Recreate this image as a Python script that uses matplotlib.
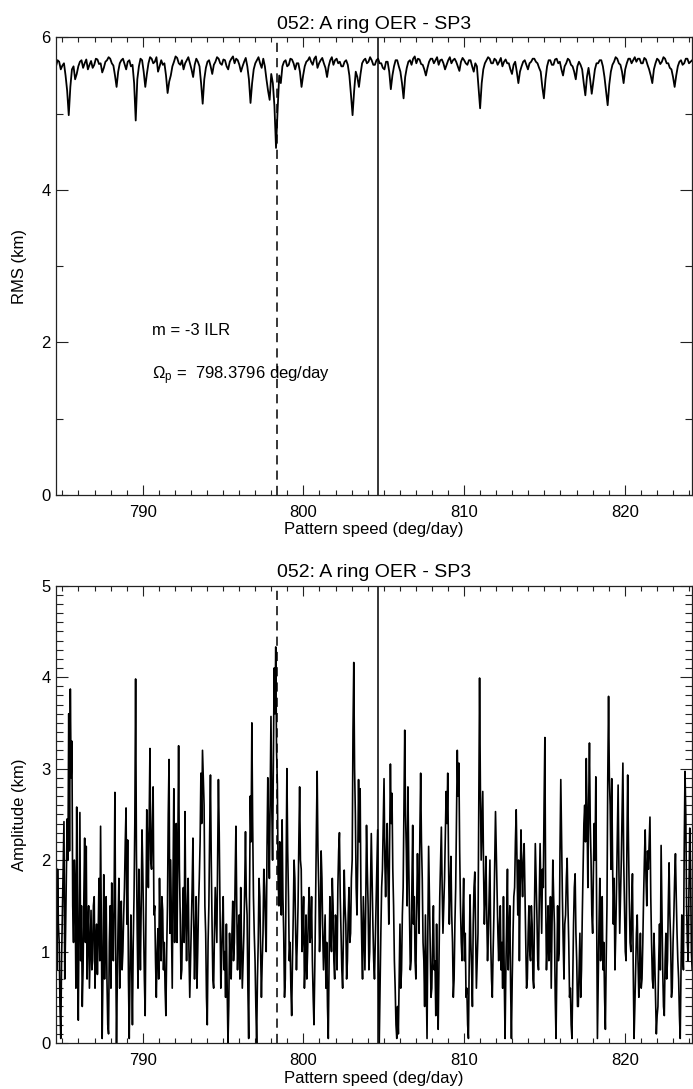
import numpy as np
import matplotlib
matplotlib.use("Agg")
import matplotlib.pyplot as plt
from matplotlib.ticker import MultipleLocator

plt.rcParams['font.family'] = ['Liberation Sans', 'DejaVu Sans']
plt.rcParams['mathtext.fontset'] = 'custom'
plt.rcParams['mathtext.rm'] = 'Liberation Sans'
plt.rcParams['mathtext.it'] = 'Liberation Sans:italic'

title = "052: A ring OER - SP3"
x_start, x_stop = 784.6, 824.2
omega_p = 798.3796
solid_x = 804.62

# RMS (km)
rms = [
    5.62, 5.70, 5.68, 5.58, 5.63, 5.66, 5.50, 5.30, 4.98, 5.35, 5.58, 5.62, 5.45, 5.52, 5.62, 5.68, 5.70, 5.60, 5.66, 5.71,
    5.58, 5.64, 5.69, 5.60, 5.64, 5.72, 5.71, 5.65, 5.66, 5.54, 5.60, 5.68, 5.70, 5.74, 5.72, 5.66, 5.63, 5.50, 5.35, 5.55,
    5.66, 5.70, 5.72, 5.65, 5.58, 5.68, 5.70, 5.62, 5.64, 5.40, 4.91, 5.45, 5.62, 5.72, 5.70, 5.55, 5.35, 5.52, 5.66, 5.74,
    5.72, 5.66, 5.68, 5.74, 5.55, 5.62, 5.70, 5.64, 5.66, 5.50, 5.27, 5.42, 5.50, 5.62, 5.68, 5.75, 5.73, 5.66, 5.64, 5.70,
    5.58, 5.66, 5.70, 5.74, 5.66, 5.58, 5.48, 5.64, 5.72, 5.68, 5.62, 5.40, 5.13, 5.45, 5.60, 5.68, 5.70, 5.62, 5.52, 5.64,
    5.68, 5.74, 5.72, 5.66, 5.64, 5.71, 5.70, 5.62, 5.58, 5.68, 5.72, 5.75, 5.66, 5.72, 5.70, 5.64, 5.55, 5.62, 5.68, 5.73,
    5.62, 5.45, 5.14, 5.40, 5.58, 5.66, 5.70, 5.74, 5.66, 5.60, 5.72, 5.62, 5.45, 5.30, 5.18, 5.52, 5.40, 5.10, 4.55, 5.05,
    5.50, 5.40, 5.62, 5.68, 5.70, 5.62, 5.64, 5.72, 5.71, 5.66, 5.58, 5.66, 5.66, 5.55, 5.35, 5.50, 5.62, 5.68, 5.70, 5.74,
    5.68, 5.64, 5.72, 5.75, 5.60, 5.66, 5.70, 5.73, 5.66, 5.60, 5.48, 5.62, 5.70, 5.74, 5.64, 5.70, 5.72, 5.66, 5.68, 5.62,
    5.62, 5.68, 5.70, 5.64, 5.50, 5.25, 4.98, 5.30, 5.55, 5.48, 5.35, 5.52, 5.66, 5.70, 5.72, 5.66, 5.68, 5.74, 5.70, 5.64,
    5.64, 5.70, 5.72, 5.66, 5.66, 5.60, 5.58, 5.68, 5.68, 5.55, 5.32, 5.50, 5.62, 5.70, 5.70, 5.62, 5.55, 5.40, 5.20, 5.48,
    5.60, 5.68, 5.70, 5.64, 5.72, 5.75, 5.66, 5.72, 5.71, 5.65, 5.64, 5.58, 5.50, 5.60, 5.68, 5.72, 5.72, 5.66, 5.70, 5.74,
    5.64, 5.70, 5.71, 5.66, 5.58, 5.64, 5.70, 5.74, 5.66, 5.70, 5.72, 5.68, 5.62, 5.56, 5.68, 5.73, 5.70, 5.66, 5.64, 5.70,
    5.70, 5.62, 5.55, 5.66, 5.62, 5.35, 5.07, 5.40, 5.58, 5.66, 5.70, 5.74, 5.72, 5.66, 5.66, 5.72, 5.70, 5.64, 5.68, 5.73,
    5.62, 5.68, 5.71, 5.66, 5.66, 5.58, 5.52, 5.64, 5.68, 5.55, 5.40, 5.55, 5.62, 5.68, 5.70, 5.64, 5.58, 5.66, 5.68, 5.72,
    5.72, 5.68, 5.66, 5.60, 5.55, 5.35, 5.20, 5.45, 5.62, 5.70, 5.70, 5.64, 5.64, 5.71, 5.72, 5.66, 5.68, 5.58, 5.50, 5.62,
    5.66, 5.72, 5.70, 5.64, 5.62, 5.55, 5.45, 5.62, 5.68, 5.64, 5.58, 5.40, 5.24, 5.48, 5.60, 5.45, 5.26, 5.42, 5.58, 5.66,
    5.66, 5.70, 5.70, 5.62, 5.48, 5.30, 5.11, 5.38, 5.55, 5.64, 5.68, 5.74, 5.72, 5.66, 5.64, 5.55, 5.40, 5.58, 5.66, 5.72,
    5.72, 5.66, 5.70, 5.74, 5.68, 5.72, 5.72, 5.66, 5.66, 5.73, 5.71, 5.64, 5.58, 5.50, 5.40, 5.58, 5.66, 5.72, 5.70, 5.65,
    5.68, 5.74, 5.72, 5.66, 5.66, 5.60, 5.58, 5.48, 5.35, 5.50, 5.62, 5.68, 5.70, 5.64, 5.66, 5.72, 5.72, 5.66, 5.68, 5.70,
]

# Amplitude (km)
amp = [
    2.25, 0.80, 1.90, 1.30, 1.10, 0.40, 0.05, 0.90, 1.40, 1.90, 2.42, 0.70, 1.20, 1.80, 2.45, 2.00, 3.60, 2.10, 3.87, 2.90,
    3.30, 1.50, 1.10, 2.00, 1.70, 0.60, 2.58, 1.20, 0.25, 1.40, 2.52, 0.90, 1.50, 0.40, 0.80, 1.60, 2.24, 1.10, 2.15, 0.70,
    1.20, 1.50, 0.60, 1.00, 1.45, 0.80, 0.90, 1.50, 1.60, 0.60, 1.10, 1.30, 0.75, 1.20, 1.80, 0.90, 2.37, 1.20, 0.05, 0.80,
    1.84, 0.70, 1.20, 1.60, 0.70, 0.20, 0.10, 1.10, 1.50, 0.60, 1.75, 1.20, 0.90, 1.60, 2.74, 1.00, 0.00, 0.70, 1.30, 1.80,
    0.60, 1.20, 1.55, 0.80, 1.00, 1.40, 1.70, 2.20, 2.57, 1.30, 2.22, 0.70, 0.05, 0.80, 1.40, 0.90, 0.20, 1.10, 1.60, 2.40,
    3.98, 2.10, 1.20, 0.60, 1.90, 1.40, 0.80, 1.50, 2.33, 1.90, 1.30, 0.70, 0.30, 1.50, 2.55, 2.20, 1.70, 2.40, 3.22, 2.00,
    1.90, 2.40, 2.80, 1.40, 1.50, 0.90, 0.50, 1.00, 1.25, 0.70, 1.80, 1.20, 0.90, 1.60, 1.45, 0.80, 1.10, 0.60, 0.30, 1.00,
    1.50, 2.50, 3.10, 1.20, 2.00, 1.30, 0.60, 1.80, 2.78, 1.10, 1.90, 2.40, 1.10, 2.10, 3.25, 1.90, 1.40, 0.70, 0.80, 1.40,
    1.70, 1.10, 2.53, 1.40, 0.90, 1.50, 1.80, 1.00, 0.50, 0.90, 1.30, 1.70, 2.24, 1.30, 0.70, 1.20, 1.60, 0.60, 1.00, 1.50,
    1.80, 2.20, 2.95, 2.40, 3.20, 2.90, 2.60, 1.50, 1.20, 0.50, 0.20, 1.10, 1.50, 2.30, 2.93, 2.00, 1.30, 0.70, 0.60, 1.20,
    1.70, 1.40, 1.10, 2.00, 2.88, 2.30, 1.40, 0.60, 0.90, 1.30, 1.60, 0.80, 1.00, 0.50, 1.30, 0.60, 0.00, 0.40, 1.20, 0.80,
    0.70, 1.20, 1.55, 0.90, 1.10, 1.80, 2.37, 1.50, 0.80, 1.20, 1.40, 0.70, 1.70, 1.10, 0.60, 0.90, 1.20, 1.70, 2.31, 1.60,
    1.40, 0.60, 0.05, 1.50, 2.70, 2.20, 3.50, 2.40, 1.60, 1.20, 0.90, 0.40, 0.00, 0.70, 1.10, 1.80, 1.60, 1.00, 0.50, 0.90,
    1.20, 1.90, 1.70, 1.30, 1.00, 2.10, 2.90, 2.30, 1.80, 2.70, 3.57, 2.60, 2.00, 3.00, 4.10, 3.60, 4.33, 3.20, 2.84, 1.80,
    1.50, 2.20, 1.90, 1.40, 2.44, 1.60, 1.20, 0.50, 0.70, 1.80, 3.00, 2.10, 1.60, 0.90, 1.10, 0.60, 0.30, 0.90, 1.40, 2.00,
    1.80, 1.20, 0.80, 1.10, 1.50, 2.20, 2.80, 2.00, 1.90, 1.00, 1.20, 1.60, 0.60, 0.90, 1.40, 0.70, 1.00, 1.40, 1.70, 1.10,
    1.20, 1.60, 0.90, 0.50, 0.20, 0.80, 1.50, 2.30, 2.97, 2.10, 1.70, 1.00, 1.30, 2.10, 1.80, 1.20, 0.80, 1.10, 1.40, 0.60,
    1.10, 0.40, 0.05, 0.90, 1.60, 1.20, 1.00, 1.80, 1.50, 0.90, 0.70, 1.40, 1.30, 0.80, 1.70, 2.10, 2.30, 1.60, 1.20, 0.80,
    0.60, 1.20, 1.89, 1.50, 1.30, 0.70, 0.90, 1.40, 1.70, 1.10, 1.20, 1.80, 2.00, 3.40, 4.16, 3.00, 2.50, 1.70, 1.40, 2.00,
    2.88, 2.20, 2.78, 1.60, 1.10, 0.70, 1.60, 1.20, 0.80, 1.50, 2.38, 1.90, 1.50, 0.80, 1.00, 1.70, 2.29, 1.80, 1.30, 0.90,
    0.70, 1.10, 1.50, 1.90, 2.33, 0.90, 0.00, 0.60, 1.20, 1.70, 1.90, 2.40, 2.89, 2.00, 1.60, 2.10, 2.40, 1.80, 1.30, 2.20,
    3.05, 2.40, 2.73, 1.90, 1.50, 0.90, 0.60, 0.20, 0.05, 0.40, 0.10, 0.70, 1.30, 0.60, 0.80, 1.40, 1.70, 2.60, 3.42, 2.50,
    2.10, 1.50, 2.80, 2.00, 1.40, 0.80, 0.90, 1.70, 2.38, 1.30, 1.60, 0.90, 0.70, 1.50, 2.07, 1.60, 1.20, 2.30, 2.95, 2.20,
    1.80, 1.10, 0.90, 0.40, 1.40, 0.70, 0.05, 1.20, 2.15, 1.60, 1.00, 0.50, 0.60, 1.10, 1.50, 0.80, 0.90, 0.30, 1.30, 0.60,
    0.15, 0.90, 1.60, 2.00, 2.36, 1.70, 1.20, 1.50, 1.80, 2.30, 2.75, 2.40, 2.95, 2.00, 1.30, 1.70, 2.04, 1.40, 1.10, 0.50,
    0.70, 1.30, 1.70, 2.50, 3.20, 2.70, 3.06, 2.10, 1.50, 1.10, 0.90, 1.40, 1.80, 0.90, 1.20, 0.50, 0.60, 0.20, 0.05, 0.90,
    1.62, 1.10, 0.80, 0.40, 1.30, 1.70, 1.87, 1.20, 0.60, 0.90, 1.20, 2.60, 3.99, 2.80, 2.00, 2.40, 2.75, 1.90, 1.30, 1.60,
    2.04, 1.40, 0.90, 1.20, 1.60, 2.00, 1.10, 0.70, 0.50, 1.00, 1.40, 2.00, 2.53, 2.10, 1.70, 1.20, 0.90, 1.30, 1.50, 0.80,
    1.10, 0.60, 1.60, 0.70, 0.05, 0.80, 1.30, 1.90, 0.80, 1.20, 1.50, 0.60, 0.05, 0.70, 1.20, 1.60, 1.70, 2.20, 2.55, 2.00,
    1.40, 2.00, 0.90, 1.70, 2.33, 1.90, 1.60, 2.00, 2.18, 1.60, 1.10, 0.60, 0.70, 1.20, 1.50, 1.00, 0.90, 1.50, 1.30, 0.70,
    0.60, 1.50, 2.18, 1.80, 1.40, 0.90, 0.80, 1.60, 2.18, 1.70, 1.20, 1.90, 1.70, 2.60, 3.34, 1.60, 0.80, 1.10, 1.50, 0.90,
    1.10, 1.60, 0.60, 1.30, 2.00, 1.60, 1.30, 0.50, 0.05, 0.80, 1.50, 0.90, 1.00, 2.10, 2.88, 2.20, 1.60, 1.10, 0.70, 1.30,
    1.40, 1.80, 2.02, 1.50, 1.10, 0.50, 0.60, 0.20, 0.05, 0.70, 1.30, 1.70, 1.85, 1.20, 0.90, 0.40, 0.40, 0.80, 1.20, 0.50,
    0.80, 1.40, 1.90, 2.40, 2.60, 2.20, 3.11, 2.50, 1.70, 2.60, 3.28, 2.40, 2.00, 1.40, 1.20, 1.90, 2.40, 2.00, 2.91, 1.50,
    0.05, 0.70, 1.30, 1.80, 0.90, 1.20, 1.60, 0.80, 1.10, 0.50, 0.15, 0.90, 1.50, 2.90, 3.79, 2.90, 2.60, 1.90, 2.89, 2.00,
    1.30, 1.80, 0.80, 1.20, 1.70, 2.30, 2.82, 1.90, 1.20, 1.60, 2.00, 2.50, 3.06, 2.00, 1.50, 1.00, 0.90, 2.10, 2.93, 2.20,
    1.60, 1.10, 1.00, 1.50, 1.85, 0.80, 0.05, 0.40, 0.80, 1.20, 1.40, 0.90, 0.50, 0.80, 1.20, 0.60, 0.70, 1.10, 1.60, 2.00,
    2.33, 1.80, 1.50, 2.10, 1.90, 2.20, 2.47, 1.60, 1.10, 0.70, 0.60, 1.20, 0.90, 0.50, 0.10, 0.30, 0.40, 0.90, 1.30, 0.80,
    2.16, 1.50, 0.80, 0.40, 0.30, 0.90, 1.20, 0.70, 0.90, 1.50, 1.97, 1.40, 1.10, 0.50, 0.60, 1.10, 1.40, 1.80, 2.07, 1.60,
    1.20, 0.90, 0.70, 0.30, 0.05, 0.80, 1.40, 1.00, 0.80, 2.10, 2.97, 2.50, 1.50, 1.10, 0.90, 1.70, 2.35, 1.90, 1.00, 0.80,
]

x_rms = np.linspace(x_start, x_stop, len(rms))
x_amp = np.linspace(x_start, x_stop, len(amp))

fig = plt.figure(figsize=(6.93, 10.89), dpi=100)
ax1 = fig.add_axes([0.0808, 0.5455, 0.918, 0.4202])
ax2 = fig.add_axes([0.0808, 0.0422, 0.918, 0.4200])


def style(ax, ymax, ymajor, yminor):
    ax.set_xlim(x_start, x_stop)
    ax.set_ylim(0, ymax)
    ax.xaxis.set_major_locator(MultipleLocator(10))
    ax.xaxis.set_minor_locator(MultipleLocator(1))
    ax.yaxis.set_major_locator(MultipleLocator(ymajor))
    ax.yaxis.set_minor_locator(MultipleLocator(yminor))
    ax.tick_params(which='both', direction='in', top=True, right=True,
                   labelsize=12, width=0.8, color='#222222')
    ax.tick_params(axis='x', which='major', length=7, pad=7)
    ax.tick_params(axis='x', which='minor', length=3.5)
    ax.tick_params(axis='y', which='major', length=8.5, pad=4)
    ax.tick_params(axis='y', which='minor', length=5)
    for s in ax.spines.values():
        s.set_linewidth(0.9)
        s.set_color('#222222')
    ax.set_title(title, fontsize=14, pad=6)
    ax.set_xlabel("Pattern speed (deg/day)", fontsize=12, labelpad=2)
    ax.axvline(omega_p, color='black', lw=1.1, ls=(0, (6, 4)))
    ax.axvline(solid_x, color='black', lw=1.1)


ax1.plot(x_rms, rms, color='black', lw=1.3)
style(ax1, 6, 2, 1)
ax1.set_ylabel("RMS (km)", fontsize=12, labelpad=10)
ax1.text(790.6, 2.16, "m = -3 ILR", fontsize=12, va='center')
ax1.text(790.6, 1.57, r"$\mathrm{\Omega}_\mathrm{p}$ =  %.4f deg/day" % omega_p,
         fontsize=12, va='center')

ax2.plot(x_amp, amp, color='black', lw=1.2)
style(ax2, 5, 1, 0.1)
ax2.set_ylabel("Amplitude (km)", fontsize=12, labelpad=10)

fig.savefig("out.png", dpi=100)
